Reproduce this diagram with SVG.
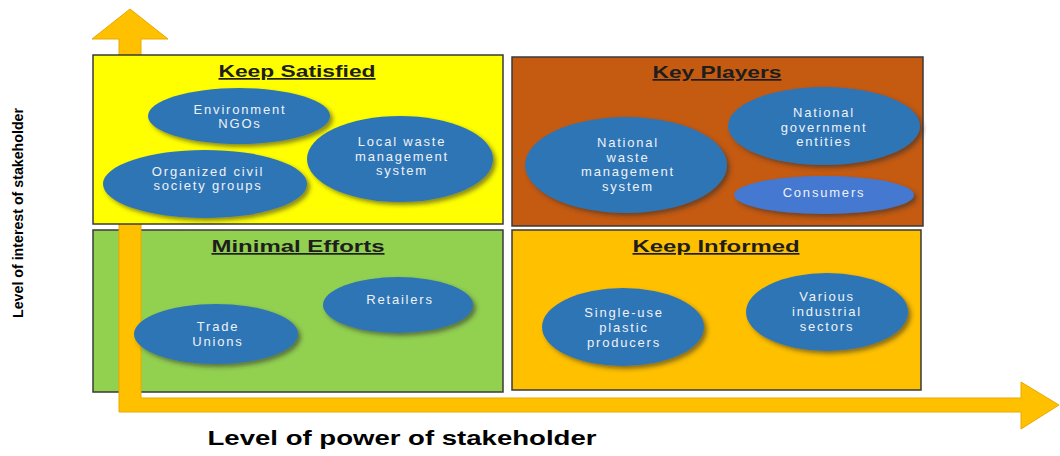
<svg xmlns="http://www.w3.org/2000/svg" width="1060" height="456" viewBox="0 0 1060 456">
  <style>
    .box { stroke: #3a3a3a; stroke-width: 1.5; }
    .title { font-family: "Liberation Sans", Arial, sans-serif; font-weight: bold; font-size: 17px; fill: #1e1e1e; text-anchor: middle; text-decoration: underline; }
    .node { fill: #2e75b6; filter: url(#shadow); }
    .node-light { fill: #4578d0; filter: url(#shadow); }
    .label { font-family: "Liberation Sans", Arial, sans-serif; font-size: 13px; letter-spacing: 1.8px; fill: #eef2f7; text-anchor: middle; }
    .axis { fill: #ffc000; stroke: #e8a900; stroke-width: 1; }
    .axis-label { font-family: "Liberation Sans", Arial, sans-serif; font-weight: bold; fill: #000; text-anchor: middle; }
  </style>
  <defs>
    <filter id="shadow" x="-20%" y="-20%" width="150%" height="160%">
      <feDropShadow dx="3" dy="3" stdDeviation="2.2" flood-color="#333" flood-opacity="0.55"/>
    </filter>
  </defs>

  <rect width="1060" height="456" fill="#ffffff"/>

  <!-- lower quadrants sit beneath the axes -->
  <g id="quadrant-minimal-efforts">
    <rect class="box" x="93" y="230" width="410" height="162" fill="#92d050"/>
  </g>
  <g id="quadrant-keep-informed">
    <rect class="box" x="512" y="230" width="409" height="160" fill="#ffc000"/>
  </g>

  <!-- power / interest axes -->
  <g id="connectors">
    <path class="axis" d="M119,412 L119,39 L92,39 L130,9 L168,39 L141,39 L141,398 L1021,398 L1021,382 L1059,405 L1021,429 L1021,412 Z"/>
  </g>

  <!-- upper quadrants -->
  <g id="quadrant-keep-satisfied">
    <rect class="box" x="93" y="55" width="410" height="169" fill="#ffff00"/>
  </g>
  <g id="quadrant-key-players">
    <rect class="box" x="512" y="57" width="411" height="169" fill="#c55a11"/>
  </g>

  <!-- quadrant titles -->
  <g id="titles">
    <text class="title" x="297" y="77" textLength="157" lengthAdjust="spacingAndGlyphs">Keep Satisfied</text>
    <text class="title" x="717" y="78" textLength="129" lengthAdjust="spacingAndGlyphs">Key Players</text>
    <text class="title" x="298" y="252" textLength="173" lengthAdjust="spacingAndGlyphs">Minimal Efforts</text>
    <text class="title" x="716" y="252" textLength="167" lengthAdjust="spacingAndGlyphs">Keep Informed</text>
  </g>

  <!-- Keep Satisfied stakeholders -->
  <g id="node-environment-ngos">
    <ellipse class="node" cx="239" cy="116" rx="91" ry="28"/>
    <text class="label" x="240" y="114">Environment</text>
    <text class="label" x="240" y="128">NGOs</text>
  </g>
  <g id="node-local-waste">
    <ellipse class="node" cx="400" cy="159" rx="93" ry="43"/>
    <text class="label" x="402" y="146">Local waste</text>
    <text class="label" x="402" y="160.5">management</text>
    <text class="label" x="402" y="175">system</text>
  </g>
  <g id="node-civil-society">
    <ellipse class="node" cx="205" cy="184" rx="102" ry="34"/>
    <text class="label" x="208" y="176">Organized civil</text>
    <text class="label" x="208" y="190">society groups</text>
  </g>

  <!-- Key Players stakeholders -->
  <g id="node-national-waste">
    <ellipse class="node" cx="626" cy="165" rx="101" ry="48"/>
    <text class="label" x="628" y="147">National</text>
    <text class="label" x="628" y="161.5">waste</text>
    <text class="label" x="628" y="176">management</text>
    <text class="label" x="628" y="190.5">system</text>
  </g>
  <g id="node-national-government">
    <ellipse class="node" cx="824" cy="126" rx="96" ry="39"/>
    <text class="label" x="824" y="117">National</text>
    <text class="label" x="824" y="131.5">government</text>
    <text class="label" x="824" y="146">entities</text>
  </g>
  <g id="node-consumers">
    <ellipse class="node-light" cx="824" cy="195" rx="90" ry="19"/>
    <text class="label" x="824" y="197">Consumers</text>
  </g>

  <!-- Minimal Efforts stakeholders -->
  <g id="node-retailers">
    <ellipse class="node" cx="398" cy="305" rx="75" ry="28"/>
    <text class="label" x="400" y="304">Retailers</text>
  </g>
  <g id="node-trade-unions">
    <ellipse class="node" cx="216" cy="334" rx="82" ry="30"/>
    <text class="label" x="218" y="331">Trade</text>
    <text class="label" x="218" y="346">Unions</text>
  </g>

  <!-- Keep Informed stakeholders -->
  <g id="node-single-use">
    <ellipse class="node" cx="623" cy="327" rx="81" ry="39"/>
    <text class="label" x="624" y="317">Single-use</text>
    <text class="label" x="624" y="332">plastic</text>
    <text class="label" x="624" y="347">producers</text>
  </g>
  <g id="node-industrial-sectors">
    <ellipse class="node" cx="827" cy="312" rx="81" ry="39"/>
    <text class="label" x="827" y="301">Various</text>
    <text class="label" x="827" y="316">industrial</text>
    <text class="label" x="827" y="331">sectors</text>
  </g>

  <!-- axis captions -->
  <g id="axis-labels">
    <text class="axis-label" font-size="15" transform="translate(23,213) rotate(-90)" x="0" y="0" textLength="210" lengthAdjust="spacingAndGlyphs">Level of interest of stakeholder</text>
    <text class="axis-label" font-size="20" x="402" y="445" textLength="389" lengthAdjust="spacingAndGlyphs">Level of power of stakeholder</text>
  </g>
</svg>
